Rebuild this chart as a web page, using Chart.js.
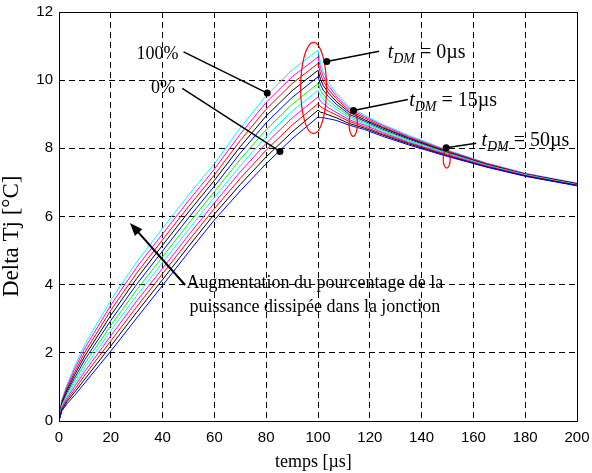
<!DOCTYPE html>
<html>
<head>
<meta charset="utf-8">
<script src="https://cdn.jsdelivr.net/npm/chart.js@4/dist/chart.umd.min.js"></script>
<style>
  html, body { margin: 0; padding: 0; background: #fff; }
  #wrap { width: 592px; height: 473px; }
</style>
</head>
<body>
<div id="wrap"><canvas id="c" width="592" height="473"></canvas></div>
<script>
// Time axis (µs): heating up to 100 µs, then cooling
const time = [0, 1, 3, 6, 10, 20, 30, 40, 50, 60, 70, 80, 90, 100,
              101, 102, 104, 107, 112, 118, 125, 135, 150, 165, 180, 200];

// Junction temperature rise (°C) for each share of power dissipated in the junction
const p0   = [0, 0.28, 0.50, 0.75, 1.12, 2.05, 3.02, 3.98, 4.95, 5.90, 6.75, 7.55, 8.28, 8.92,
              8.90, 8.90, 8.87, 8.82, 8.68, 8.55, 8.35, 8.10, 7.76, 7.45, 7.18, 6.90];
const p10  = [0, 0.31, 0.56, 0.84, 1.23, 2.20, 3.19, 4.15, 5.12, 6.07, 6.94, 7.75, 8.48, 9.12,
              9.06, 9.04, 8.98, 8.90, 8.73, 8.59, 8.39, 8.13, 7.78, 7.46, 7.19, 6.91];
const p20  = [0, 0.34, 0.61, 0.92, 1.35, 2.35, 3.35, 4.32, 5.29, 6.23, 7.12, 7.95, 8.68, 9.31,
              9.22, 9.17, 9.09, 8.98, 8.79, 8.63, 8.42, 8.16, 7.80, 7.47, 7.20, 6.92];
const p30  = [0, 0.38, 0.67, 1.01, 1.46, 2.50, 3.52, 4.48, 5.45, 6.40, 7.31, 8.15, 8.89, 9.51,
              9.38, 9.31, 9.19, 9.06, 8.84, 8.68, 8.46, 8.18, 7.82, 7.49, 7.21, 6.92];
const p40  = [0, 0.41, 0.72, 1.09, 1.57, 2.65, 3.68, 4.65, 5.62, 6.56, 7.49, 8.35, 9.09, 9.70,
              9.54, 9.44, 9.30, 9.14, 8.90, 8.72, 8.49, 8.21, 7.84, 7.50, 7.22, 6.93];
const p50  = [0, 0.44, 0.78, 1.18, 1.69, 2.80, 3.85, 4.82, 5.79, 6.73, 7.68, 8.55, 9.29, 9.90,
              9.70, 9.58, 9.41, 9.22, 8.95, 8.76, 8.53, 8.24, 7.86, 7.51, 7.23, 6.94];
const p60  = [0, 0.47, 0.83, 1.26, 1.80, 2.95, 4.01, 4.99, 5.96, 6.89, 7.86, 8.75, 9.49, 10.10,
              9.86, 9.71, 9.52, 9.30, 9.00, 8.80, 8.56, 8.27, 7.87, 7.52, 7.23, 6.95];
const p70  = [0, 0.50, 0.89, 1.35, 1.91, 3.10, 4.18, 5.16, 6.13, 7.06, 8.05, 8.95, 9.69, 10.29,
              10.02, 9.85, 9.63, 9.38, 9.06, 8.84, 8.60, 8.30, 7.89, 7.53, 7.24, 6.96];
const p80  = [0, 0.54, 0.94, 1.43, 2.02, 3.25, 4.34, 5.32, 6.29, 7.22, 8.23, 9.15, 9.90, 10.49,
              10.18, 9.98, 9.73, 9.46, 9.11, 8.89, 8.63, 8.32, 7.91, 7.55, 7.25, 6.96];
const p90  = [0, 0.57, 1.00, 1.52, 2.14, 3.40, 4.51, 5.49, 6.46, 7.39, 8.42, 9.35, 10.10, 10.68,
              10.34, 10.12, 9.84, 9.54, 9.17, 8.93, 8.67, 8.35, 7.93, 7.56, 7.26, 6.97];
const p100 = [0, 0.60, 1.05, 1.60, 2.25, 3.55, 4.67, 5.66, 6.63, 7.55, 8.60, 9.55, 10.30, 10.88,
              10.50, 10.25, 9.95, 9.62, 9.22, 8.97, 8.70, 8.38, 7.95, 7.57, 7.27, 6.98];

const series = [p0, p10, p20, p30, p40, p50, p60, p70, p80, p90, p100];
const seriesNames = ['0%', '10%', '20%', '30%', '40%', '50%', '60%', '70%', '80%', '90%', '100%'];
const seriesColors = ['#0000ff', '#000000', '#ff0000', '#ff00ff', '#00ffff', '#00ff00',
                      '#0000ff', '#000000', '#ff0000', '#ff00ff', '#00ffff'];

const xTicksStep = 20;
const yTicksStep = 2;
const xTitle = 'temps [µs]';
const yTitle = 'Delta Tj [°C]';

const datasets = series.map((vals, i) => ({
  label: seriesNames[i],
  data: time.map((t, k) => ({ x: t, y: vals[k] })),
  borderColor: seriesColors[i],
  borderWidth: 1,
  pointRadius: 0,
  tension: 0,
  fill: false
}));

const SERIF = '"Liberation Serif", "Times New Roman", serif';
const SANS = '"Liberation Sans", Arial, sans-serif';

// Annotation geometry, in data units (µs, °C)
const ellipses = [
  { t: 98.3, v: 9.77, rt: 5.0, rv: 1.34 },
  { t: 113.6, v: 8.73, rt: 1.6, rv: 0.38 },
  { t: 149.7, v: 7.69, rt: 1.36, rv: 0.27 }
];
const leaders = [
  { from: [48.1, 10.83], to: [80.4, 9.62] },   // 100%
  { from: [47.6, 9.76], to: [85.3, 7.91] },    // 0%
  { from: [123.6, 10.85], to: [103.4, 10.55] },// tDM = 0
  { from: [134.7, 9.43], to: [113.7, 9.11] },  // tDM = 15
  { from: [161.1, 8.15], to: [149.5, 8.02] }   // tDM = 50
];
const tdmLabels = [
  { t: 126.9, v: 10.66, text: '0µs' },
  { t: 135.2, v: 9.25, text: '15µs' },
  { t: 163.1, v: 8.07, text: '50µs' }
];

const notes = {
  id: 'notes',
  afterDatasetsDraw(chart) {
    const { ctx, chartArea: a, scales: { x, y } } = chart;
    const px = t => x.getPixelForValue(t);
    const py = v => y.getPixelForValue(v);
    ctx.save();

    // axes box
    ctx.strokeStyle = '#000';
    ctx.lineWidth = 1;
    ctx.strokeRect(Math.round(a.left) + 0.5, Math.round(a.top) + 0.5,
                   Math.round(a.right - a.left), Math.round(a.bottom - a.top));

    // red ellipses around the cooling branches
    ctx.strokeStyle = '#ff0000';
    ctx.lineWidth = 1.2;
    ellipses.forEach(e => {
      const cx = px(e.t), cy = py(e.v);
      const rx = px(e.t + e.rt) - cx, ry = cy - py(e.v + e.rv);
      ctx.beginPath();
      ctx.ellipse(cx, cy, rx, ry, 0, 0, Math.PI * 2);
      ctx.stroke();
    });

    // leader lines with dots
    ctx.strokeStyle = '#000';
    ctx.fillStyle = '#000';
    ctx.lineWidth = 1.5;
    leaders.forEach(l => {
      ctx.beginPath();
      ctx.moveTo(px(l.from[0]), py(l.from[1]));
      ctx.lineTo(px(l.to[0]), py(l.to[1]));
      ctx.stroke();
      ctx.beginPath();
      ctx.arc(px(l.to[0]), py(l.to[1]), 3.5, 0, Math.PI * 2);
      ctx.fill();
    });

    // arrow for the increasing share of power
    const tx = px(48.7), ty = py(3.99), hx = px(27.4), hy = py(5.81);
    const ang = Math.atan2(hy - ty, hx - tx);
    ctx.lineWidth = 2;
    ctx.beginPath();
    ctx.moveTo(tx, ty);
    ctx.lineTo(hx - 10 * Math.cos(ang), hy - 10 * Math.sin(ang));
    ctx.stroke();
    ctx.beginPath();
    ctx.moveTo(hx, hy);
    ctx.lineTo(hx - 13 * Math.cos(ang) + 5 * Math.sin(ang), hy - 13 * Math.sin(ang) - 5 * Math.cos(ang));
    ctx.lineTo(hx - 13 * Math.cos(ang) - 5 * Math.sin(ang), hy - 13 * Math.sin(ang) + 5 * Math.cos(ang));
    ctx.closePath();
    ctx.fill();

    // text labels
    ctx.fillStyle = '#000';
    ctx.textBaseline = 'alphabetic';
    ctx.font = '18px ' + SERIF;
    ctx.textAlign = 'right';
    ctx.fillText('100%', px(46.1), py(10.81) + 6);
    ctx.fillText('0%', px(44.8), py(9.81) + 6);

    ctx.textAlign = 'center';
    ctx.font = '18px ' + SERIF;
    ctx.fillText('Augmentation du pourcentage de la', px(98.8), py(3.9));
    ctx.fillText('puissance dissipée dans la jonction', px(98.8), py(3.19));

    ctx.textAlign = 'left';
    tdmLabels.forEach(l => {
      let xx = px(l.t);
      const yy = py(l.v);
      ctx.font = 'italic 20px ' + SERIF;
      ctx.fillText('t', xx, yy);
      xx += ctx.measureText('t').width;
      ctx.font = 'italic 14px ' + SERIF;
      ctx.fillText('DM', xx, yy + 5);
      xx += ctx.measureText('DM').width;
      ctx.font = '20px ' + SERIF;
      ctx.fillText(' = ' + l.text, xx, yy);
    });

    // axis titles
    ctx.textAlign = 'center';
    ctx.font = '18px ' + SERIF;
    ctx.fillText(xTitle, px(98.2), a.bottom + 46);
    ctx.save();
    ctx.translate(18, py(5.42));
    ctx.rotate(-Math.PI / 2);
    ctx.font = '23px ' + SERIF;
    ctx.fillText(yTitle, 0, 0);
    ctx.restore();

    ctx.restore();
  }
};

new Chart(document.getElementById('c'), {
  type: 'line',
  data: { datasets },
  options: {
    responsive: false,
    animation: false,
    devicePixelRatio: 1,
    layout: { padding: { left: 0, right: 15, top: 12, bottom: 0 } },
    plugins: { legend: { display: false }, tooltip: { enabled: false } },
    scales: {
      x: {
        type: 'linear', min: 0, max: 200,
        afterFit: s => { s.height = 52; s.paddingLeft = 0; s.paddingRight = 0; },
        ticks: { stepSize: xTicksStep, color: '#000', font: { family: SANS, size: 15 }, padding: 8, maxRotation: 0 },
        grid: { color: '#000', lineWidth: 1, drawTicks: false },
        border: { display: false, dash: [6, 4] }
      },
      y: {
        type: 'linear', min: 0, max: 12,
        afterFit: s => { s.width = 59; s.paddingTop = 0; s.paddingBottom = 0; },
        ticks: { stepSize: yTicksStep, color: '#000', font: { family: SANS, size: 15 }, padding: 6 },
        grid: { color: '#000', lineWidth: 1, drawTicks: false },
        border: { display: false, dash: [6, 4] }
      }
    }
  },
  plugins: [notes]
});
</script>
</body>
</html>
